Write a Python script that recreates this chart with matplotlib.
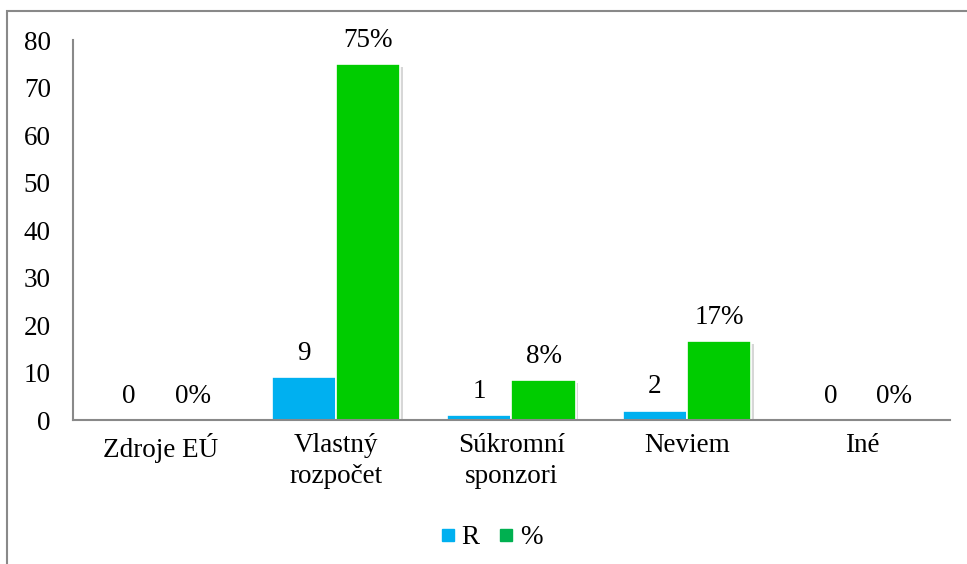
import matplotlib.pyplot as plt
import matplotlib.patheffects as pe
from matplotlib.patches import Rectangle
from matplotlib.lines import Line2D
import numpy as np

categories = ['Zdroje EÚ', 'Vlastný\nrozpočet', 'Súkromní\nsponzori', 'Neviem', 'Iné']
r_vals = [0, 9, 1, 2, 0]
pct_vals = [0, 75, 8.33, 16.67, 0]
series_names = ['R', '%']

plt.rcParams['font.family'] = ['Liberation Serif', 'DejaVu Serif']
grey = '#898989'
blue = '#00B0F0'
green = '#00CC00'
green_legend = '#00B050'
fs = 19.5

fig = plt.figure(figsize=(9.67, 5.64), dpi=100)
ax = fig.add_axes([0.0755, 0.2553, 0.9069, 0.6737])

x = np.arange(len(categories))
w = 0.365
shadow = [pe.SimplePatchShadow(offset=(2, -2), shadow_rgbFace='#b0b0b0', alpha=0.5), pe.Normal()]
b1 = ax.bar(x - w / 2, r_vals, w, color=blue, edgecolor='white', linewidth=1.2, path_effects=shadow)
b2 = ax.bar(x + w / 2, pct_vals, w, color=green, edgecolor='white', linewidth=1.2, path_effects=shadow)

for rect, v in zip(b1, r_vals):
    ax.annotate(f'{v}', (rect.get_x() + rect.get_width() / 2, rect.get_height()),
                xytext=(0, 8), textcoords='offset points', ha='center', va='bottom', fontsize=fs)
for rect, v in zip(b2, pct_vals):
    ax.annotate(f'{v:.0f}%', (rect.get_x() + rect.get_width() / 2, rect.get_height()),
                xytext=(0, 8), textcoords='offset points', ha='center', va='bottom', fontsize=fs)

ax.set_xlim(-0.5, len(categories) - 0.5)
ax.set_ylim(0, 80)
ax.set_yticks(range(0, 81, 10))
ax.set_xticks(x)
ax.set_xticklabels(categories, linespacing=1.35)
ax.tick_params(axis='y', length=0, pad=16, labelsize=fs)
ax.tick_params(axis='x', length=0, pad=9, labelsize=fs)
for s in ['top', 'right']:
    ax.spines[s].set_visible(False)
for s in ['left', 'bottom']:
    ax.spines[s].set_color(grey)
    ax.spines[s].set_linewidth(1.5)

handles = [Line2D([], [], marker='s', linestyle='none', color=blue, markersize=8),
           Line2D([], [], marker='s', linestyle='none', color=green_legend, markersize=8)]
fig.legend(handles, series_names, loc='center', bbox_to_anchor=(0.505, 0.047), ncol=2,
           frameon=False, fontsize=fs, handletextpad=0.0, columnspacing=0.5, handlelength=1.0)

fig.patches.append(Rectangle((7 / 967, -0.1), 1.2, 1.1 - 11 / 564, transform=fig.transFigure,
                             fill=False, edgecolor=grey, linewidth=1.5, clip_on=False))

fig.savefig('out.png', dpi=100)
